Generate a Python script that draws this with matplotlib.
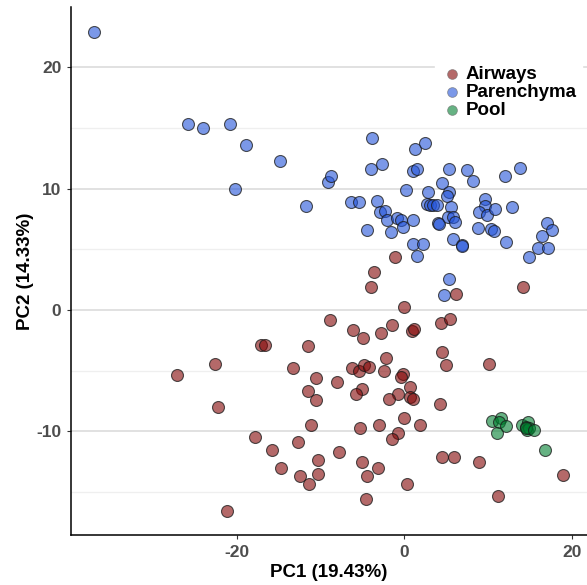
import numpy as np
import matplotlib
matplotlib.use('Agg')
import matplotlib.pyplot as plt

# PCA scores
airwaysPC1 = [-1.11, -3.62, -4.01, 14.18, 6.18, -0.07, -8.91, -6.09, -4.97, -2.82,
              -1.47, 0.88, 1.16, 4.42, 5.42, -11.54, 4.54, 5.02, 10.16, -13.33,
              -10.55, -8.04, -6.28, -5.41, -4.81, -4.22, -2.22, -2.46, -0.19, -0.39,
              0.72, 0.65, 1.08, -0.75, -1.83, -5.05, -5.73, -11.54, -10.55, 4.30,
              -0.07, -11.18, -5.33, -2.99, -0.72, -1.47, 1.91, -12.70, -7.77, -10.27,
              -5.09, -3.18, -4.49, -12.46, -10.31, -11.42, 0.29, -4.54, 4.54, 5.94,
              8.96, 11.23, 19.00, -27.19, -22.65, -22.22, -17.16, -16.64, -17.87, -15.81,
              -14.77, -21.15]
airwaysPC2 = [4.34, 3.13, 1.92, 1.92, 1.32, 0.27, -0.85, -1.65, -2.33, -1.89,
              -1.21, -1.70, -1.56, -1.09, -0.77, -2.94, -3.43, -4.55, -4.42, -4.77,
              -5.60, -5.95, -4.77, -5.00, -4.55, -4.67, -3.93, -5.05, -5.29, -5.54,
              -6.34, -7.16, -7.30, -6.91, -7.30, -6.50, -6.91, -6.67, -7.38, -7.71,
              -8.86, -9.47, -9.74, -9.44, -10.15, -10.62, -9.47, -10.84, -11.69, -12.32,
              -12.49, -13.03, -13.66, -13.69, -13.47, -14.30, -14.30, -15.58, -12.07, -12.07,
              -12.49, -15.28, -13.60, -5.33, -4.47, -7.98, -2.88, -2.88, -10.48, -11.52,
              -12.98, -16.52]

parenchymaPC1 = [-37.07, -25.81, -24.05, -20.83, -18.91, -14.85, -20.26, -11.74, -9.08, -8.79,
                 -6.33, -5.41, -3.82, -4.01, -2.63, -3.23, -2.90, -2.31, -4.46, -2.03,
                 -1.62, -0.91, -0.36, -0.12, 1.00, 0.24, 1.24, 2.44, 1.08, 1.52,
                 1.00, 2.20, 1.55, 2.87, 2.68, 3.07, 3.46, 3.94, 4.00, 4.10,
                 4.50, 5.38, 5.34, 5.07, 5.58, 5.22, 5.85, 6.09, 5.78, 6.85,
                 6.95, 7.53, 8.24, 9.64, 9.68, 8.89, 9.84, 10.80, 8.84, 10.36,
                 10.72, 12.03, 13.79, 12.83, 12.15, 14.90, 15.94, 16.45, 17.09, 17.65,
                 17.13, 5.30, 4.74]
parenchymaPC2 = [22.91, 15.28, 14.95, 15.28, 13.60, 12.26, 9.98, 8.58, 10.53, 11.00,
                 8.86, 8.91, 14.16, 11.60, 12.04, 8.95, 8.07, 8.17, 6.58, 7.38,
                 6.40, 7.60, 7.41, 6.83, 7.38, 9.90, 13.28, 13.77, 11.44, 11.63,
                 5.43, 5.43, 4.47, 9.71, 8.72, 8.67, 8.64, 8.64, 7.15, 7.05,
                 10.48, 11.58, 9.71, 9.36, 8.48, 7.68, 7.65, 7.24, 5.82, 5.35,
                 5.25, 11.55, 10.59, 9.14, 8.58, 8.09, 7.79, 8.29, 6.77, 6.64,
                 6.53, 11.00, 11.66, 8.48, 5.62, 4.34, 5.13, 6.07, 7.19, 6.58,
                 5.13, 2.58, 1.26]

poolPC1 = [10.48, 11.59, 11.35, 12.11, 11.08, 14.10, 14.81, 14.50, 14.70, 14.90,
           14.60, 15.53, 16.85]
poolPC2 = [-9.11, -8.86, -9.26, -9.53, -10.10, -9.44, -9.22, -9.65, -9.85, -9.70,
           -9.75, -9.90, -11.52]

groups = ['Airways', 'Parenchyma', 'Pool']
fills = [(0.51, 0.02, 0.02, 0.6), (0.14, 0.33, 0.85, 0.6), (0.0, 0.50, 0.19, 0.6)]

plt.rcParams['font.family'] = ['Liberation Sans', 'DejaVu Sans']
plt.rcParams['axes.unicode_minus'] = False

fig = plt.figure(figsize=(5.87, 5.85), dpi=100)
ax = fig.add_axes([71/587, 50/585, 516/587, 528/585])

data = [(airwaysPC1, airwaysPC2), (parenchymaPC1, parenchymaPC2), (poolPC1, poolPC2)]
for (pc1, pc2), name, fc in zip(data, groups, fills):
    ax.scatter(pc1, pc2, s=74, facecolors=[fc], edgecolors=[(0.1, 0.1, 0.1, 0.75)],
               linewidths=0.8, label=name, zorder=3)

ax.set_xlim(-39.82, 21.83)
ax.set_ylim(-18.52, 24.94)
ax.set_xticks([-20, 0, 20])
ax.set_yticks([-10, 0, 10, 20])
ax.set_yticks([-15, -5, 5, 15], minor=True)

# horizontal grid only
ax.yaxis.grid(True, which='major', color='#DEDEDE', linewidth=1.3, zorder=0)
ax.yaxis.grid(True, which='minor', color='#EFEFEF', linewidth=0.9, zorder=0)
ax.set_axisbelow(True)

for side in ['top', 'right']:
    ax.spines[side].set_visible(False)
for side in ['left', 'bottom']:
    ax.spines[side].set_linewidth(1.1)
    ax.spines[side].set_color('black')

ax.tick_params(axis='both', which='major', length=3, color='#333333',
               labelsize=12.5, labelcolor='#4D4D4D', pad=4)
ax.tick_params(axis='both', which='minor', length=0)
for lab in ax.get_xticklabels() + ax.get_yticklabels():
    lab.set_fontweight('bold')

ax.set_xlabel('PC1 (19.43%)', fontsize=13.5, fontweight='bold', labelpad=3)
ax.set_ylabel('PC2 (14.33%)', fontsize=13.5, fontweight='bold', labelpad=1.5)

leg = ax.legend(loc='upper left', bbox_to_anchor=(0.688, 0.917), frameon=True,
                fancybox=False, framealpha=1, edgecolor='white', facecolor='white',
                prop={'size': 13.5, 'weight': 'bold'}, handletextpad=0.1,
                labelspacing=0.05, borderpad=0.3, handlelength=1.2, markerscale=0.82)
for h in leg.legend_handles:
    h.set_edgecolor((0.4, 0.4, 0.4, 0.6))
    h.set_linewidth(0.6)

fig.savefig('out.png', dpi=100)
